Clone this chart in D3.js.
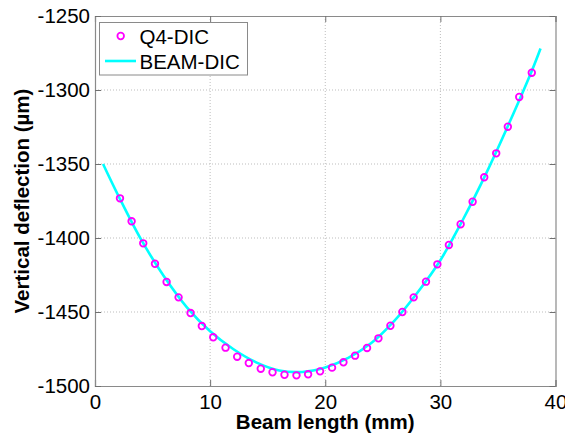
<!DOCTYPE html>
<html>
<head>
<meta charset="utf-8">
<script src="https://cdn.jsdelivr.net/npm/d3@7"></script>
<style>
  html, body { margin: 0; padding: 0; background: #fff; }
  svg { display: block; font-family: Arial, "Liberation Sans", sans-serif; }
</style>
</head>
<body>
<svg id="chart" width="565" height="435"></svg>
<script>
// ---- data ----
const q4X = [2.17, 3.18, 4.19, 5.21, 6.22, 7.26, 8.30, 9.28, 10.27, 11.34, 12.35, 13.36, 14.40, 15.42,
             16.46, 17.50, 18.51, 19.55, 20.59, 21.58, 22.59, 23.63, 24.62, 25.66, 26.70, 27.68, 28.75,
             29.74, 30.74, 31.76, 32.80, 33.81, 34.85, 35.86, 36.85, 37.94];
const q4Y = [-1373.2, -1388.7, -1403.6, -1417.4, -1429.7, -1440.1, -1450.7, -1459.5, -1467.1, -1474.1,
             -1480.2, -1484.5, -1488.3, -1490.7, -1492.4, -1492.8, -1492.1, -1490.1, -1487.6, -1484.0,
             -1479.5, -1474.3, -1467.8, -1459.3, -1450.0, -1440.1, -1429.5, -1417.8, -1404.7, -1390.7,
             -1375.5, -1359.0, -1342.8, -1324.8, -1304.7, -1288.3];
const beamX = [0.7, 2, 4, 6, 8, 10, 12, 14, 16, 18, 20, 22, 24, 26, 28, 30, 32, 34, 36, 38, 38.7];
const beamY = [-1350, -1371, -1401, -1426, -1447, -1463, -1475, -1484, -1489.5, -1490.5, -1487.5,
               -1481, -1471, -1456, -1437, -1415, -1387, -1356, -1322, -1286, -1272];
const xTicks = [0, 10, 20, 30, 40];
const yTicks = [-1250, -1300, -1350, -1400, -1450, -1500];
const seriesNames = ["Q4-DIC", "BEAM-DIC"];
const xLabel = "Beam length (mm)";
const yLabel = "Vertical deflection (µm)";

// ---- layout ----
const svg = d3.select("#chart");
const L = 95, R = 555.5, T = 16, B = 386;
const x = d3.scaleLinear().domain([0, 40]).range([L, R]);
const y = d3.scaleLinear().domain([-1500, -1250]).range([B, T]);

const gridColor = "#bdbdbd";
// grid
svg.append("g").selectAll("line").data(xTicks.slice(1, -1)).join("line")
  .attr("x1", d => x(d)).attr("x2", d => x(d)).attr("y1", T).attr("y2", B)
  .attr("stroke", gridColor).attr("stroke-width", 1).attr("stroke-dasharray", "1,2");
svg.append("g").selectAll("line").data(yTicks.slice(1, -1)).join("line")
  .attr("y1", d => y(d)).attr("y2", d => y(d)).attr("x1", L).attr("x2", R)
  .attr("stroke", gridColor).attr("stroke-width", 1).attr("stroke-dasharray", "1,2");

// axes with inward ticks
const tickLen = 6;
const fs = 20.5;
const xAxisB = d3.axisBottom(x).tickValues(xTicks).tickSize(-tickLen).tickPadding(8).tickFormat(d3.format("d"));
const xAxisT = d3.axisTop(x).tickValues(xTicks).tickSize(-tickLen).tickFormat("");
const yAxisL = d3.axisLeft(y).tickValues(yTicks).tickSize(-tickLen).tickPadding(5).tickFormat(d3.format("d"));
const yAxisR = d3.axisRight(y).tickValues(yTicks).tickSize(-tickLen).tickFormat("");

function styleAxis(g) {
  g.select(".domain").attr("stroke", "#8a8a8a").attr("stroke-width", 1.2);
  g.selectAll(".tick line").attr("stroke", "#707070");
  g.selectAll(".tick text").attr("fill", "#000").style("font-size", fs + "px")
    .style("font-family", "Arial, 'Liberation Sans', sans-serif");
}
svg.append("g").attr("transform", `translate(0,${B})`).call(xAxisB).call(styleAxis);
svg.append("g").attr("transform", `translate(0,${T})`).call(xAxisT).call(styleAxis);
svg.append("g").attr("transform", `translate(${L},0)`).call(yAxisL).call(styleAxis)
  .selectAll(".tick text").text(d => "-" + Math.abs(d));
svg.append("g").attr("transform", `translate(${R},0)`).call(yAxisR).call(styleAxis);

// beam line
const line = d3.line().x((d, i) => x(beamX[i])).y(d => y(d)).curve(d3.curveCatmullRom.alpha(0.5));
svg.append("path").datum(beamY).attr("d", line)
  .attr("fill", "none").attr("stroke", "#00ffff").attr("stroke-width", 2.6);

// Q4 markers
svg.append("g").selectAll("circle").data(q4Y).join("circle")
  .attr("cx", (d, i) => x(q4X[i])).attr("cy", d => y(d)).attr("r", 3.3)
  .attr("fill", "none").attr("stroke", "#ff00ff").attr("stroke-width", 1.8);

// axis labels
svg.append("text").attr("x", (L + R) / 2).attr("y", 429).attr("text-anchor", "middle")
  .style("font-size", "20.5px").style("font-weight", "bold").text(xLabel);
svg.append("text").attr("transform", `translate(29,${(T + B) / 2}) rotate(-90)`).attr("text-anchor", "middle")
  .style("font-size", "20.5px").style("font-weight", "bold").text(yLabel);

// legend
const lg = svg.append("g");
lg.append("rect").attr("x", 99.5).attr("y", 22.5).attr("width", 148).attr("height", 52.5)
  .attr("fill", "#fff").attr("stroke", "#8a8a8a").attr("stroke-width", 1);
lg.append("circle").attr("cx", 120.7).attr("cy", 36).attr("r", 3.3)
  .attr("fill", "none").attr("stroke", "#ff00ff").attr("stroke-width", 1.8);
lg.append("line").attr("x1", 105).attr("x2", 136).attr("y1", 61).attr("y2", 61)
  .attr("stroke", "#00ffff").attr("stroke-width", 2.6);
lg.append("text").attr("x", 139.5).attr("y", 43.5).style("font-size", "20.5px").text(seriesNames[0]);
lg.append("text").attr("x", 139.5).attr("y", 68.5).style("font-size", "20.5px").text(seriesNames[1]);
</script>
</body>
</html>
